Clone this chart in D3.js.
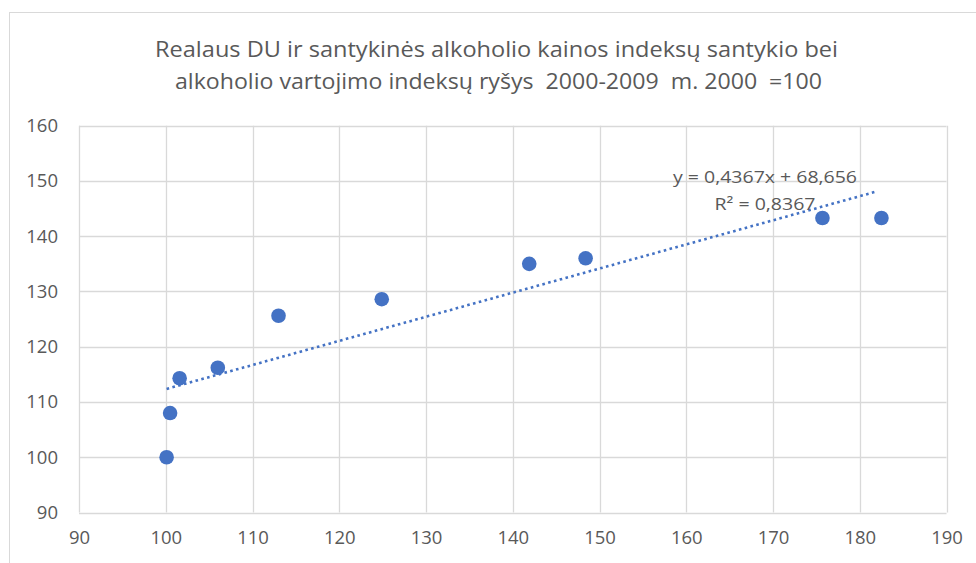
<!DOCTYPE html>
<html><head><meta charset="utf-8">
<script src="https://cdn.jsdelivr.net/npm/d3@7"></script>
<style>
html,body{margin:0;padding:0;background:#fff;}
svg{display:block;font-family:"Open Sans","Noto Sans",sans-serif;}
</style></head>
<body><svg id="c" width="976" height="563"></svg>
<script>
const titleLines = ["Realaus DU ir santykinės alkoholio kainos indeksų santykio bei",
                    "alkoholio vartojimo indeksų ryšys  2000-2009  m. 2000  =100"];
const xValues = [100.1, 100.5, 101.6, 106.0, 113.0, 124.9, 141.9, 148.4, 175.7, 182.5];
const yValues = [100.0, 108.0, 114.3, 116.2, 125.6, 128.6, 135.0, 136.0, 143.3, 143.3];
const xTicks = [90, 100, 110, 120, 130, 140, 150, 160, 170, 180, 190];
const yTicks = [90, 100, 110, 120, 130, 140, 150, 160];
const slope = 0.4367, intercept = 68.656;
const eqLabels = ["y = 0,4367x + 68,656", "R² = 0,8367"];

const svg = d3.select("#c");
const gray = "#595959", grid = "#d9d9d9", blue = "#4472C4";

// chart frame
svg.append("rect").attr("x", 9.5).attr("y", 12.5).attr("width", 1000).attr("height", 600)
  .attr("fill", "#fff").attr("stroke", "#d9d9d9").attr("stroke-width", 1);

const x = d3.scaleLinear().domain([90, 190]).range([79, 946.5]);
const y = d3.scaleLinear().domain([90, 160]).range([512.5, 125.7]);

// gridlines
svg.append("g").selectAll("line").data(xTicks).join("line")
  .attr("x1", d => Math.round(x(d)) + 0.5).attr("x2", d => Math.round(x(d)) + 0.5)
  .attr("y1", y(160)).attr("y2", y(90)).attr("stroke", grid).attr("stroke-width", 1.3);
svg.append("g").selectAll("line").data(yTicks).join("line")
  .attr("y1", d => Math.round(y(d)) + 0.5).attr("y2", d => Math.round(y(d)) + 0.5)
  .attr("x1", x(90)).attr("x2", x(190)).attr("stroke", grid).attr("stroke-width", 1.3);

// axes labels via d3 axes
const xAxis = svg.append("g").attr("transform", `translate(0,${y(90)})`)
  .call(d3.axisBottom(x).tickValues(xTicks).tickSize(0).tickPadding(18));
const yAxis = svg.append("g").attr("transform", `translate(${x(90)},0)`)
  .call(d3.axisLeft(y).tickValues(yTicks).tickSize(0).tickPadding(21));
[xAxis, yAxis].forEach(g => {
  g.select(".domain").remove();
  g.selectAll("text").attr("fill", gray).style("font-size", "18.5px")
    .style("font-family", '"Open Sans","Noto Sans",sans-serif');
});

// trendline
const xmin = d3.min(xValues), xmax = d3.max(xValues);
svg.append("line")
  .attr("x1", x(xmin)).attr("y1", y(slope * xmin + intercept))
  .attr("x2", x(xmax) - 4).attr("y2", y(slope * (xmax - 0.5) + intercept))
  .attr("stroke", blue).attr("stroke-width", 2.6).attr("stroke-dasharray", "2.6 3.4");

// points
svg.append("g").selectAll("circle").data(xValues.map((v, i) => [v, yValues[i]])).join("circle")
  .attr("cx", d => x(d[0])).attr("cy", d => y(d[1])).attr("r", 7.3).attr("fill", blue);

// equation labels
const eqPos = [[765, 183, 184], [765, 210, 101]];
eqLabels.forEach((t, i) => {
  svg.append("text").attr("x", eqPos[i][0]).attr("y", eqPos[i][1]).attr("text-anchor", "middle")
    .attr("fill", gray).style("font-size", "17px")
    .attr("textLength", eqPos[i][2]).attr("lengthAdjust", "spacingAndGlyphs").text(t);
});

// title
const tPos = [[496.5, 57, 683], [498.5, 88.5, 647]];
titleLines.forEach((t, i) => {
  svg.append("text").attr("x", tPos[i][0]).attr("y", tPos[i][1]).attr("text-anchor", "middle")
    .attr("fill", gray).style("font-size", "22px").style("white-space", "pre")
    .attr("textLength", tPos[i][2]).attr("lengthAdjust", "spacingAndGlyphs").text(t);
});
</script></body></html>
